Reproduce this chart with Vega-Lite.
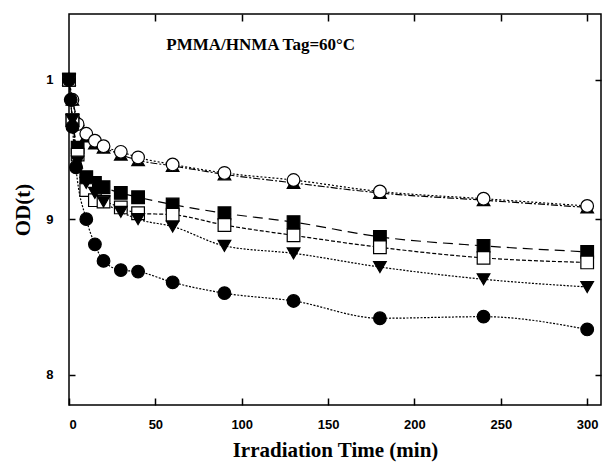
{
  "$schema": "https://vega.github.io/schema/vega-lite/v6.json",
  "width": 532,
  "height": 391,
  "autosize": {"type": "none"},
  "padding": {"left": 69, "top": 14, "right": 9, "bottom": 60},
  "background": "white",
  "data": {
    "values": [
      {"t": 0, "od": 1.0, "s": "72h"}, {"t": 2, "od": 0.985, "s": "72h"}, {"t": 5, "od": 0.97, "s": "72h"}, {"t": 10, "od": 0.958, "s": "72h"}, {"t": 15, "od": 0.953, "s": "72h"}, {"t": 20, "od": 0.95, "s": "72h"}, {"t": 30, "od": 0.945, "s": "72h"}, {"t": 40, "od": 0.941, "s": "72h"}, {"t": 60, "od": 0.937, "s": "72h"}, {"t": 90, "od": 0.931, "s": "72h"}, {"t": 130, "od": 0.925, "s": "72h"}, {"t": 180, "od": 0.918, "s": "72h"}, {"t": 240, "od": 0.913, "s": "72h"}, {"t": 300, "od": 0.908, "s": "72h"},
      {"t": 0, "od": 1.0, "s": "60h"}, {"t": 2, "od": 0.985, "s": "60h"}, {"t": 5, "od": 0.967, "s": "60h"}, {"t": 10, "od": 0.96, "s": "60h"}, {"t": 15, "od": 0.955, "s": "60h"}, {"t": 20, "od": 0.951, "s": "60h"}, {"t": 30, "od": 0.947, "s": "60h"}, {"t": 40, "od": 0.943, "s": "60h"}, {"t": 60, "od": 0.938, "s": "60h"}, {"t": 90, "od": 0.932, "s": "60h"}, {"t": 130, "od": 0.927, "s": "60h"}, {"t": 180, "od": 0.919, "s": "60h"}, {"t": 240, "od": 0.914, "s": "60h"}, {"t": 300, "od": 0.909, "s": "60h"},
      {"t": 0, "od": 1.0, "s": "48h"}, {"t": 2, "od": 0.97, "s": "48h"}, {"t": 5, "od": 0.95, "s": "48h"}, {"t": 10, "od": 0.929, "s": "48h"}, {"t": 15, "od": 0.925, "s": "48h"}, {"t": 20, "od": 0.922, "s": "48h"}, {"t": 30, "od": 0.918, "s": "48h"}, {"t": 40, "od": 0.915, "s": "48h"}, {"t": 60, "od": 0.91, "s": "48h"}, {"t": 90, "od": 0.904, "s": "48h"}, {"t": 130, "od": 0.898, "s": "48h"}, {"t": 180, "od": 0.888, "s": "48h"}, {"t": 240, "od": 0.882, "s": "48h"}, {"t": 300, "od": 0.878, "s": "48h"},
      {"t": 0, "od": 1.0, "s": "24h"}, {"t": 2, "od": 0.97, "s": "24h"}, {"t": 5, "od": 0.945, "s": "24h"}, {"t": 10, "od": 0.92, "s": "24h"}, {"t": 15, "od": 0.913, "s": "24h"}, {"t": 20, "od": 0.912, "s": "24h"}, {"t": 30, "od": 0.908, "s": "24h"}, {"t": 40, "od": 0.904, "s": "24h"}, {"t": 60, "od": 0.903, "s": "24h"}, {"t": 90, "od": 0.896, "s": "24h"}, {"t": 130, "od": 0.889, "s": "24h"}, {"t": 180, "od": 0.881, "s": "24h"}, {"t": 240, "od": 0.874, "s": "24h"}, {"t": 300, "od": 0.871, "s": "24h"},
      {"t": 0, "od": 1.0, "s": "12h"}, {"t": 2, "od": 0.97, "s": "12h"}, {"t": 5, "od": 0.94, "s": "12h"}, {"t": 10, "od": 0.925, "s": "12h"}, {"t": 15, "od": 0.918, "s": "12h"}, {"t": 20, "od": 0.912, "s": "12h"}, {"t": 30, "od": 0.905, "s": "12h"}, {"t": 40, "od": 0.9, "s": "12h"}, {"t": 60, "od": 0.895, "s": "12h"}, {"t": 90, "od": 0.882, "s": "12h"}, {"t": 130, "od": 0.877, "s": "12h"}, {"t": 180, "od": 0.868, "s": "12h"}, {"t": 240, "od": 0.86, "s": "12h"}, {"t": 300, "od": 0.855, "s": "12h"},
      {"t": 0, "od": 1.0, "s": "0h"}, {"t": 1, "od": 0.985, "s": "0h"}, {"t": 2, "od": 0.965, "s": "0h"}, {"t": 4, "od": 0.936, "s": "0h"}, {"t": 10, "od": 0.9, "s": "0h"}, {"t": 15, "od": 0.883, "s": "0h"}, {"t": 20, "od": 0.872, "s": "0h"}, {"t": 30, "od": 0.866, "s": "0h"}, {"t": 40, "od": 0.865, "s": "0h"}, {"t": 60, "od": 0.858, "s": "0h"}, {"t": 90, "od": 0.851, "s": "0h"}, {"t": 130, "od": 0.846, "s": "0h"}, {"t": 180, "od": 0.835, "s": "0h"}, {"t": 240, "od": 0.836, "s": "0h"}, {"t": 300, "od": 0.828, "s": "0h"}
    ]
  },
  "layer": [
    {
      "mark": {"type": "line", "color": "black", "strokeWidth": 1.2, "interpolate": "monotone"},
      "encoding": {
        "x": {"field": "t", "type": "quantitative", "scale": {"domain": [0, 308], "nice": false},
              "axis": {"orient": "top", "values": [50, 100, 150, 200, 250, 300], "labels": false, "title": null,
                       "ticks": true, "tickColor": "black", "tickOpacity": 1, "tickWidth": 1.5, "tickSize": 7, "offset": -7}},
        "y": {"field": "od", "type": "quantitative", "scale": {"type": "log", "domain": [0.782, 1.051], "nice": false, "zero": false},
              "axis": {"orient": "right", "values": [0.8, 0.9, 1], "labels": false, "title": null,
                       "ticks": true, "tickColor": "black", "tickOpacity": 1, "tickWidth": 1.5, "tickSize": 6, "offset": -6}},
        "detail": {"field": "s"},
        "strokeDash": {"field": "s", "type": "nominal", "legend": null,
                       "scale": {"domain": ["72h", "60h", "48h", "24h", "12h", "0h"],
                                 "range": [[7, 2, 2, 2], [2, 2], [10, 6], [4, 2], [2, 1.5], [2, 1.5]]}}
      }
    },
    {
      "mark": {"type": "point", "filled": true, "stroke": "black", "strokeWidth": 1.2, "size": 160, "opacity": 1},
      "encoding": {
        "x": {"field": "t", "type": "quantitative",
              "axis": {"orient": "bottom", "values": [0, 50, 100, 150, 200, 250, 300],
                       "ticks": true, "tickColor": "black", "tickOpacity": 1, "tickWidth": 1.5, "tickSize": 7, "offset": -7, "labelPadding": 13,
                       "labelFont": "Liberation Sans", "labelFontWeight": "bold", "labelFontSize": 13,
                       "title": "Irradiation Time (min)", "titleFont": "Liberation Serif", "titleFontWeight": "bold", "titleFontSize": 21, "titlePadding": 8}},
        "y": {"field": "od", "type": "quantitative",
              "axis": {"orient": "left", "values": [0.8, 0.9, 1],
                       "ticks": true, "tickColor": "black", "tickOpacity": 1, "tickWidth": 1.5, "tickSize": 6, "offset": -6, "labelPadding": 16,
                       "labelExpr": "datum.value == 1 ? '1' : format(datum.value * 10, 'd')",
                       "labelFont": "Liberation Sans", "labelFontWeight": "bold", "labelFontSize": 13,
                       "title": "OD(t)", "titleFont": "Liberation Serif", "titleFontWeight": "bold", "titleFontSize": 21, "titlePadding": 12}},
        "shape": {"field": "s", "type": "nominal",
                  "scale": {"domain": ["72h", "60h", "48h", "24h", "12h", "0h"],
                            "range": ["triangle-up", "circle", "square", "square", "triangle-down", "circle"]},
                  "legend": {"disable": false, "title": null, "orient": "none", "legendX": 418, "legendY": 22,
                             "labelFont": "Liberation Sans", "labelFontSize": 15, "labelColor": "black", "labelOpacity": 1,
                             "symbolSize": 130, "symbolOpacity": 1, "rowPadding": 5, "labelOffset": 18,
                             "labelExpr": "datum.label == '0h' ? '\u2007\u20070h' : datum.label",
                             "encode": {"symbols": {"update": {"fill": {"scale": "fill", "field": "value"}, "stroke": {"value": "black"}, "strokeWidth": {"value": 1.2}, "opacity": {"value": 1}}}}}},
        "fill": {"field": "s", "type": "nominal", "legend": null,
                 "scale": {"domain": ["72h", "60h", "48h", "24h", "12h", "0h"],
                           "range": ["black", "white", "black", "white", "black", "black"]}}
      }
    },
    {
      "data": {"values": [{}]},
      "mark": {"type": "text", "text": "PMMA/HNMA Tag=60°C", "font": "Liberation Serif", "fontWeight": "bold", "fontSize": 17, "align": "center", "baseline": "middle", "color": "black"},
      "encoding": {
        "x": {"datum": 111, "type": "quantitative", "axis": null},
        "y": {"datum": 1.027, "type": "quantitative", "axis": null}
      }
    }
  ],
  "resolve": {"axis": {"x": "independent", "y": "independent"}},
  "config": {
    "view": {"stroke": "black", "strokeWidth": 1.5},
    "axis": {"domain": false, "grid": false, "labelColor": "black", "titleColor": "black"}
  }
}
